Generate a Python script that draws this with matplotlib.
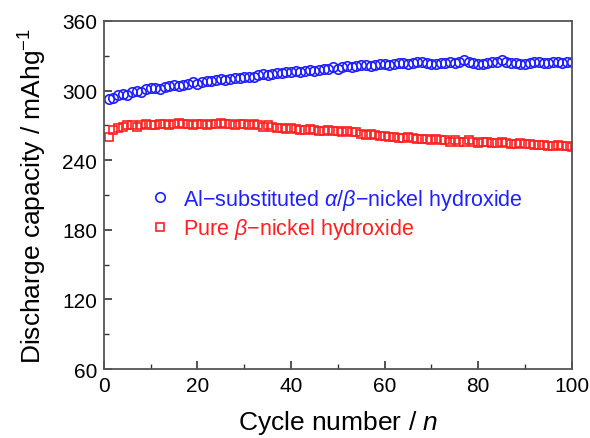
import matplotlib
matplotlib.use("Agg")
import matplotlib.pyplot as plt
from matplotlib.ticker import MultipleLocator

plt.rcParams['font.family'] = ['Liberation Sans', 'DejaVu Sans']
plt.rcParams['mathtext.fontset'] = 'custom'
plt.rcParams['mathtext.rm'] = 'Liberation Sans'
plt.rcParams['mathtext.it'] = 'Liberation Sans:italic'
plt.rcParams['mathtext.bf'] = 'Liberation Sans:bold'

cycles = list(range(1, 101))
al_sub = [293, 294, 296, 297, 296, 299, 300, 299, 301, 302,
          302, 301, 303, 304, 305, 304, 305, 306, 307, 306,
          307, 308, 308, 309, 310, 309, 310, 311, 311, 312,
          312, 312, 313, 314, 313, 314, 315, 315, 316, 316,
          317, 316, 317, 318, 317, 318, 319, 319, 320, 319,
          320, 321, 320, 321, 322, 322, 321, 322, 323, 323,
          322, 323, 324, 324, 323, 324, 325, 325, 324, 323,
          323, 324, 324, 325, 324, 325, 326, 325, 324, 323,
          323, 324, 325, 325, 326, 325, 324, 324, 323, 323,
          324, 325, 325, 324, 324, 325, 325, 324, 325, 325]
pure_beta = [260, 266, 268, 269, 270, 270, 269, 270, 271, 270,
             270, 271, 271, 270, 271, 272, 271, 271, 270, 271,
             271, 270, 271, 271, 272, 271, 271, 270, 271, 271,
             270, 271, 270, 269, 270, 269, 268, 268, 267, 268,
             267, 266, 266, 267, 266, 265, 265, 266, 265, 265,
             264, 265, 264, 264, 263, 262, 263, 262, 261, 261,
             260, 260, 259, 259, 260, 259, 258, 258, 258, 257,
             258, 257, 257, 256, 257, 256, 256, 257, 256, 255,
             256, 256, 255, 255, 256, 255, 254, 254, 255, 254,
             254, 253, 253, 253, 252, 252, 253, 252, 252, 251]
labels = [r'Al$-$substituted $\alpha/\beta$$-$nickel hydroxide',
          r'Pure $\beta$$-$nickel hydroxide']

fig = plt.figure(figsize=(5.9, 4.39), dpi=100)
ax = fig.add_axes([0.176, 0.157, 0.793, 0.793])

ax.plot(cycles, al_sub, 'o', mfc='none', mec='#2020ff', ms=6.8, mew=1.2, label=labels[0])
ax.plot(cycles, pure_beta, 's', mfc='none', mec='#ff2020', ms=5.8, mew=1.2, label=labels[1])

ax.set_xlim(0, 100)
ax.set_ylim(60, 360)
ax.xaxis.set_major_locator(MultipleLocator(20))
ax.xaxis.set_minor_locator(MultipleLocator(10))
ax.yaxis.set_major_locator(MultipleLocator(60))
ax.yaxis.set_minor_locator(MultipleLocator(30))
ax.tick_params(which='both', direction='in', top=False, right=False, labelsize=15,
               colors='#333333', labelcolor='black', pad=5)
ax.tick_params(which='major', length=6, width=1.2)
ax.tick_params(which='minor', length=3.5, width=1.0)
for s in ax.spines.values():
    s.set_color('#555555')
    s.set_linewidth(1.3)

ax.set_xlabel(r'Cycle number / $n$', fontsize=19, labelpad=9)
ax.set_ylabel(r'Discharge capacity / mAhg$^{-1}$', fontsize=19, labelpad=9)

leg = ax.legend(loc='upper left', bbox_to_anchor=(0.1015, 0.523), frameon=False, fontsize=15.5,
                handletextpad=0.66, handlelength=0.8, labelspacing=0.2,
                borderpad=0, borderaxespad=0)
for t, c in zip(leg.get_texts(), ['#2020ff', '#ff2020']):
    t.set_color(c)

fig.savefig('out.png', dpi=100)
